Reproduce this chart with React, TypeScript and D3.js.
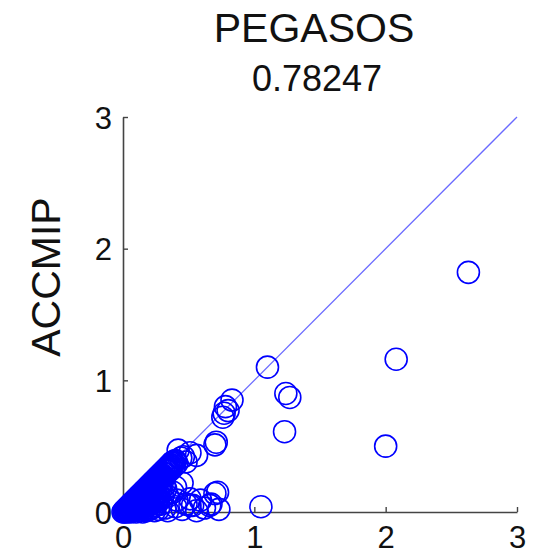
import { useEffect, useRef } from "react";
import * as d3 from "d3";

const TITLE = "PEGASOS";
const SUBTITLE = "0.78247";
const Y_LABEL = "ACCMIP";
const TICKS = [0, 1, 2, 3];

// PEGASOS (x) vs ACCMIP (y)
const pegasos = [
  0.0, 0.01, 0.01, 0.02, 0.02, 0.03, 0.03, 0.04, 0.04, 0.05, 0.05, 0.05, 0.06, 0.06, 0.06, 0.07, 0.07, 0.07, 0.08, 0.08,
  0.08, 0.09, 0.09, 0.09, 0.1, 0.1, 0.1, 0.1, 0.11, 0.11, 0.11, 0.12, 0.12, 0.12, 0.13, 0.13, 0.13, 0.13, 0.14, 0.14,
  0.14, 0.14, 0.15, 0.15, 0.15, 0.15, 0.16, 0.16, 0.16, 0.16, 0.17, 0.17, 0.17, 0.18, 0.18, 0.18, 0.18, 0.19, 0.19, 0.19,
  0.2, 0.2, 0.2, 0.2, 0.21, 0.21, 0.21, 0.22, 0.22, 0.22, 0.22, 0.23, 0.23, 0.23, 0.24, 0.24, 0.24, 0.24, 0.25, 0.25,
  0.25, 0.26, 0.26, 0.26, 0.27, 0.27, 0.27, 0.28, 0.28, 0.28, 0.29, 0.29, 0.3, 0.3, 0.31, 0.31, 0.32, 0.32, 0.33, 0.33,
  0.34, 0.35, 0.35, 0.36, 0.37, 0.37, 0.38, 0.39, 0.4, 0.41,
  0.025, 0.045, 0.065, 0.085, 0.105, 0.125, 0.145, 0.165, 0.185, 0.205, 0.225, 0.245, 0.265, 0.285, 0.305, 0.325,
  0.035, 0.075, 0.115, 0.155, 0.195, 0.235, 0.275, 0.315, 0.055, 0.095, 0.135, 0.175, 0.215, 0.255, 0.295,
  0.345, 0.355, 0.365, 0.385, 0.395, 0.335, 0.315, 0.295, 0.275, 0.255,
  0.42, 0.46, 0.51, 0.56, 0.44, 0.48, 0.38,
  0.4, 0.45, 0.41, 0.38, 0.34, 0.3, 0.27,
  0.34, 0.4, 0.45, 0.51, 0.53, 0.59, 0.51, 0.62, 0.66, 0.7, 0.72, 0.67, 0.73, 0.56, 0.48,
  0.71, 0.7, 0.76, 0.78, 0.83, 0.8, 0.77,
  1.1, 1.24, 1.27, 1.23, 1.05,
  2.63, 2.08, 2.0,
];
const accmip = [
  0.0, 0.0, 0.01, 0.01, 0.02, 0.0, 0.03, 0.02, 0.04, 0.01, 0.03, 0.05, 0.0, 0.04, 0.06, 0.02, 0.05, 0.07, 0.01, 0.04,
  0.08, 0.03, 0.06, 0.09, 0.0, 0.05, 0.08, 0.1, 0.02, 0.07, 0.11, 0.04, 0.09, 0.12, 0.01, 0.06, 0.1, 0.13, 0.03, 0.08,
  0.12, 0.14, 0.0, 0.05, 0.1, 0.15, 0.02, 0.07, 0.13, 0.16, 0.04, 0.11, 0.17, 0.01, 0.08, 0.14, 0.18, 0.05, 0.12, 0.19,
  0.02, 0.09, 0.16, 0.2, 0.06, 0.13, 0.21, 0.03, 0.1, 0.18, 0.22, 0.07, 0.15, 0.23, 0.01, 0.12, 0.2, 0.24, 0.05, 0.17,
  0.25, 0.09, 0.22, 0.26, 0.02, 0.14, 0.27, 0.19, 0.25, 0.28, 0.06, 0.29, 0.23, 0.3, 0.27, 0.31, 0.03, 0.32, 0.29, 0.33,
  0.34, 0.31, 0.35, 0.36, 0.33, 0.37, 0.38, 0.35, 0.39, 0.37,
  0.015, 0.035, 0.025, 0.055, 0.035, 0.075, 0.045, 0.095, 0.065, 0.115, 0.085, 0.135, 0.105, 0.155, 0.125, 0.175,
  0.005, 0.015, 0.06, 0.035, 0.1, 0.045, 0.12, 0.2, 0.045, 0.075, 0.115, 0.145, 0.185, 0.215, 0.265,
  0.32, 0.33, 0.345, 0.37, 0.385, 0.315, 0.29, 0.275, 0.255, 0.235,
  0.47, 0.42, 0.45, 0.43, 0.41, 0.38, 0.38,
  0.19, 0.22, 0.09, 0.15, 0.12, 0.11, 0.08,
  0.01, 0.04, 0.02, 0.05, 0.05, 0.09, 0.1, 0.03, 0.05, 0.14, 0.15, 0.06, 0.02, 0.01, 0.06,
  0.53, 0.51, 0.72, 0.8, 0.85, 0.77, 0.75,
  1.1, 0.9, 0.87, 0.61, 0.04,
  1.82, 1.16, 0.5,
];

const W = 539;
const H = 560;
const M = { left: 123, right: 22, top: 117, bottom: 48 };
const FONT = "'Liberation Sans', Arial, sans-serif";

const App = () => {
  const svgRef = useRef<SVGSVGElement | null>(null);

  useEffect(() => {
    const svg = d3.select(svgRef.current);
    svg.selectAll("*").remove();

    const x = d3.scaleLinear().domain([0, 3]).range([M.left, W - M.right]);
    const y = d3.scaleLinear().domain([0, 3]).range([H - M.bottom, M.top]);

    // 1:1 line
    svg
      .append("line")
      .attr("x1", x(0))
      .attr("y1", y(0))
      .attr("x2", x(3))
      .attr("y2", y(3))
      .attr("stroke", "#6a6aff")
      .attr("stroke-width", 1.3);

    const xAxis = svg
      .append("g")
      .attr("transform", `translate(0,${y(0)})`)
      .call(
        d3.axisBottom(x).tickValues(TICKS).tickFormat(d3.format("d")).tickSizeInner(-5).tickSizeOuter(0).tickPadding(14)
      );
    const yAxis = svg
      .append("g")
      .attr("transform", `translate(${x(0)},0)`)
      .call(
        d3.axisLeft(y).tickValues(TICKS).tickFormat(d3.format("d")).tickSizeInner(-5).tickSizeOuter(0).tickPadding(11)
      );

    [xAxis, yAxis].forEach((g) => {
      g.select(".domain").attr("stroke", "#444").attr("stroke-width", 1.6);
      g.selectAll(".tick line").attr("stroke", "#444").attr("stroke-width", 1.4);
      g.selectAll("text").attr("font-family", FONT).attr("font-size", 31).attr("fill", "#111");
    });
    yAxis.selectAll("text").attr("dy", "0.36em");

    svg
      .append("g")
      .selectAll("circle")
      .data(d3.range(pegasos.length))
      .join("circle")
      .attr("cx", (i) => x(pegasos[i]))
      .attr("cy", (i) => y(accmip[i]))
      .attr("r", 11)
      .attr("fill", "none")
      .attr("stroke", "#0000ff")
      .attr("stroke-width", 1.6);

    svg
      .append("text")
      .attr("x", 314)
      .attr("y", 42)
      .attr("text-anchor", "middle")
      .attr("font-family", FONT)
      .attr("font-size", 41)
      .attr("fill", "#111")
      .text(TITLE);
    svg
      .append("text")
      .attr("x", 317)
      .attr("y", 91)
      .attr("text-anchor", "middle")
      .attr("font-family", FONT)
      .attr("font-size", 36)
      .attr("fill", "#111")
      .text(SUBTITLE);
    svg
      .append("text")
      .attr("transform", "translate(60,277) rotate(-90)")
      .attr("text-anchor", "middle")
      .attr("font-family", FONT)
      .attr("font-size", 41)
      .attr("fill", "#111")
      .text(Y_LABEL);
  }, []);

  return (
    <svg
      ref={svgRef}
      width={W}
      height={H}
      style={{ position: "absolute", left: 0, top: 0, background: "#fff" }}
    />
  );
};

export default App;
